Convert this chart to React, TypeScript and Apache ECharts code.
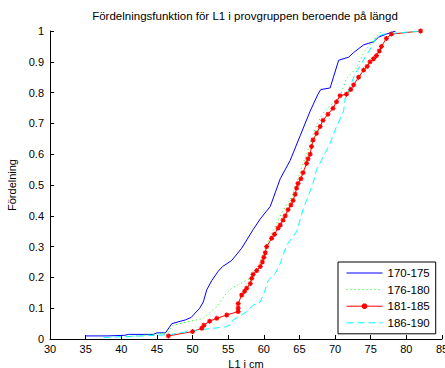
import React, { useEffect, useRef } from "react";
import * as echarts from "echarts";

const titleText = "Fördelningsfunktion för L1 i provgruppen beroende på längd";
const xName = "L1 i cm";
const yName = "Fördelning";
const seriesNames = ["170-175", "176-180", "181-185", "186-190"];

const blue: number[][] = [
  [35, 0.01], [38, 0.01], [40.5, 0.012], [41, 0.015], [44.5, 0.015], [45, 0.02], [46.2, 0.02],
  [47.1, 0.05], [49, 0.062], [49.8, 0.07], [51, 0.1], [51.5, 0.12], [52, 0.16], [52.7, 0.19],
  [53.6, 0.22], [54.2, 0.235], [55.5, 0.255], [56.9, 0.295], [58.5, 0.355], [59.5, 0.39],
  [60.9, 0.43], [62.3, 0.52], [63.7, 0.58], [65.1, 0.66], [66.5, 0.74], [67.6, 0.795],
  [68, 0.81], [69.3, 0.815], [70.5, 0.905], [71.9, 0.915], [72.6, 0.93], [74, 0.955],
  [75.4, 0.965], [76.1, 0.98], [77.2, 0.99], [78.5, 1.0],
];

const green: number[][] = [
  [41, 0.008], [44.7, 0.016], [46.5, 0.02], [47.3, 0.045], [51.5, 0.067], [53.4, 0.105],
  [54.8, 0.15], [55.5, 0.165], [58.3, 0.2], [59.5, 0.25], [60.3, 0.3], [61.5, 0.36],
  [62.5, 0.41], [63.9, 0.46], [64.5, 0.5], [65.2, 0.55], [66, 0.6], [66.7, 0.65],
  [67.5, 0.7], [68.5, 0.74], [70.7, 0.787], [71.6, 0.846], [73, 0.88], [74, 0.93],
  [75.4, 0.97], [76.5, 1.0],
];

const red: number[][] = [
  [46.6, 0.01], [50.0, 0.024], [51.3, 0.035], [51.6, 0.045], [52.4, 0.058], [53.4, 0.067],
  [54.8, 0.078], [56.4, 0.089], [56.4, 0.1], [56.4, 0.115], [56.9, 0.143], [57.3, 0.155],
  [57.6, 0.165], [58.1, 0.18], [58.3, 0.197], [58.5, 0.21], [59.0, 0.222], [59.5, 0.235],
  [59.8, 0.25], [60.0, 0.265], [60.2, 0.28], [60.4, 0.3], [61.1, 0.327], [61.5, 0.34],
  [62.0, 0.36], [62.3, 0.37], [62.7, 0.386], [63.0, 0.4], [63.4, 0.42], [63.8, 0.435],
  [64.1, 0.45], [64.4, 0.47], [64.6, 0.49], [64.8, 0.505], [65.2, 0.52], [65.5, 0.54],
  [66.0, 0.57], [66.2, 0.585], [66.5, 0.6], [66.7, 0.625], [66.9, 0.646], [67.4, 0.668],
  [67.9, 0.69], [68.3, 0.71], [69.0, 0.73], [69.7, 0.749], [70.2, 0.77], [70.7, 0.79],
  [71.6, 0.795], [72.2, 0.81], [72.6, 0.825], [73.3, 0.85], [74.0, 0.873], [74.5, 0.885],
  [74.9, 0.9], [75.4, 0.91], [75.8, 0.92], [76.2, 0.935], [76.5, 0.95], [77.2, 0.976],
  [77.9, 0.99], [82, 1.0],
];

const cyan: number[][] = [
  [37.5, 0.005], [41, 0.008], [45, 0.012], [47, 0.015], [50.1, 0.027], [54.8, 0.04],
  [55.5, 0.05], [55.7, 0.062], [56.7, 0.075], [57.6, 0.089], [58.5, 0.11], [59.5, 0.12],
  [60.2, 0.16], [60.6, 0.19], [61.6, 0.213], [62.3, 0.245], [63.2, 0.305], [64.6, 0.348],
  [65.5, 0.42], [66.0, 0.45], [66.9, 0.505], [67.4, 0.55], [68.3, 0.59], [69.3, 0.635],
  [70.2, 0.69], [71.2, 0.74], [71.4, 0.78], [72.1, 0.82], [72.8, 0.86], [74.0, 0.906],
  [74.9, 0.94], [75.8, 0.98], [76.8, 0.99], [82, 1.0],
];

const FONT = "'Liberation Sans', Arial, Helvetica, sans-serif";
const STAR = "path://M5,0L5,10M0,5L10,5M1.5,1.5L8.5,8.5M1.5,8.5L8.5,1.5";

export default function App() {
  const ref = useRef<HTMLDivElement>(null);
  useEffect(() => {
    if (!ref.current) return;
    const chart = echarts.init(ref.current, null, { renderer: "svg" });
    chart.setOption({
      animation: false,
      backgroundColor: "#ffffff",
      textStyle: { fontFamily: FONT },
      graphic: [
        {
          type: "text",
          x: 245,
          y: 16,
          style: {
            text: titleText,
            fontFamily: FONT,
            fontSize: 11.5,
            fill: "#000",
            textAlign: "center",
            textVerticalAlign: "middle",
          },
        },
      ],
      grid: { left: 50, right: 3, top: 31, bottom: 29, containLabel: false, outerBoundsMode: "none" },
      legend: {
        orient: "vertical",
        left: 338,
        top: 262,
        padding: [4, 6, 4, 8],
        itemWidth: 36,
        itemHeight: 7,
        itemGap: 2.6,
        backgroundColor: "#ffffff",
        borderColor: "#000",
        borderWidth: 1,
        borderRadius: 0,
        lineStyle: { width: 1 },
        textStyle: { fontFamily: FONT, fontSize: 11.5, color: "#000", lineHeight: 14 },
        data: [
          { name: seriesNames[0], itemStyle: { opacity: 0 } },
          { name: seriesNames[1], itemStyle: { opacity: 0 } },
          { name: seriesNames[2] },
          { name: seriesNames[3], itemStyle: { opacity: 0 } },
        ],
      },
      xAxis: {
        type: "value",
        min: 30,
        max: 85,
        interval: 5,
        name: xName,
        nameLocation: "middle",
        nameGap: 18,
        nameTextStyle: { fontFamily: FONT, fontSize: 11, color: "#000" },
        axisLine: { show: true, lineStyle: { color: "#000", width: 1 } },
        axisTick: { show: true, inside: true, length: 4, lineStyle: { color: "#000" } },
        axisLabel: { fontFamily: FONT, fontSize: 11, color: "#000", margin: 4, showMaxLabel: true, showMinLabel: true },
        splitLine: { show: false },
      },
      yAxis: {
        type: "value",
        min: 0,
        max: 1,
        interval: 0.1,
        name: yName,
        nameLocation: "middle",
        nameGap: 32,
        nameTextStyle: { fontFamily: FONT, fontSize: 11, color: "#000" },
        axisLine: { show: true, lineStyle: { color: "#000", width: 1 } },
        axisTick: { show: true, inside: true, length: 4, lineStyle: { color: "#000" } },
        axisLabel: { fontFamily: FONT, fontSize: 11, color: "#000", margin: 6 },
        splitLine: { show: false },
      },
      series: [
        {
          name: seriesNames[0],
          type: "line",
          data: blue,
          symbol: "none",
          lineStyle: { color: "#0000ff", width: 1, type: "solid" },
          itemStyle: { color: "#0000ff" },
        },
        {
          name: seriesNames[1],
          type: "line",
          data: green,
          symbol: "none",
          lineStyle: { color: "#00ff00", width: 1, type: [1, 3] },
          itemStyle: { color: "#00ff00" },
        },
        {
          name: seriesNames[2],
          type: "line",
          data: red,
          symbol: STAR,
          symbolSize: 5,
          showSymbol: true,
          lineStyle: { color: "#ff0000", width: 1, type: "solid" },
          itemStyle: { color: "#ff0000", borderColor: "#ff0000", borderWidth: 1.2 },
        },
        {
          name: seriesNames[3],
          type: "line",
          data: cyan,
          symbol: "none",
          lineStyle: { color: "#00ffff", width: 1, type: [7, 4] },
          itemStyle: { color: "#00ffff" },
        },
      ],
    });
    return () => chart.dispose();
  }, []);
  return (
    <div
      ref={ref}
      style={{ position: "absolute", left: 0, top: 0, width: 445, height: 368, background: "#fff" }}
    />
  );
}
